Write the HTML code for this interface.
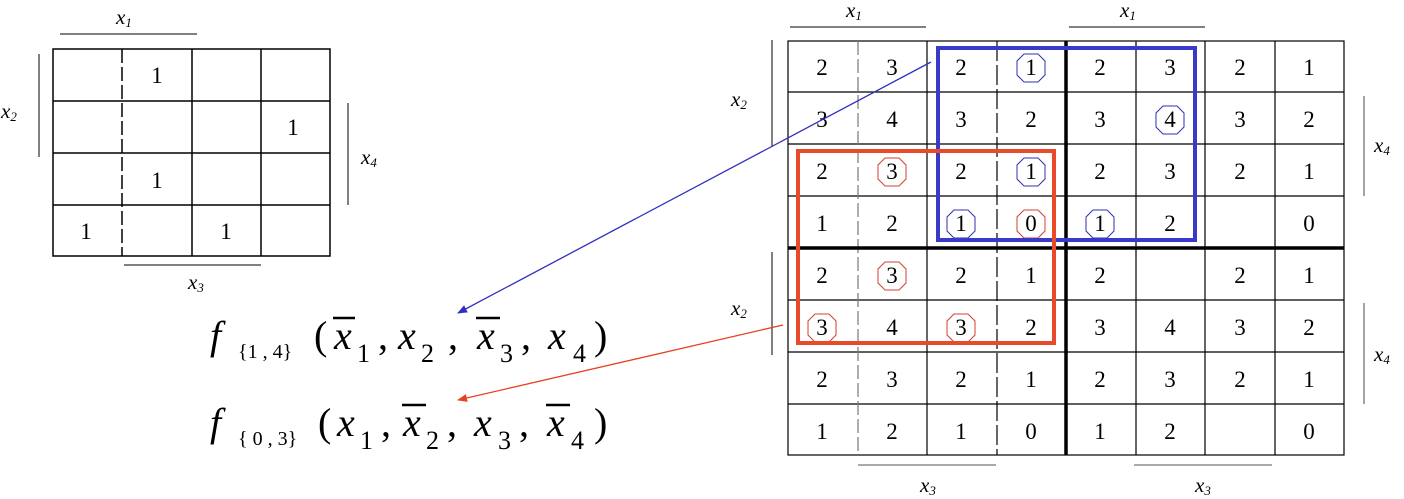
<!DOCTYPE html>
<html><head><meta charset="utf-8"><style>
html,body{margin:0;padding:0;background:#fff;}
svg{display:block;font-family:"Liberation Serif",serif;}
</style></head><body>
<svg width="1404" height="499" viewBox="0 0 1404 499" xmlns="http://www.w3.org/2000/svg">
<defs>
<marker id="ab" markerWidth="10" markerHeight="8" refX="9" refY="4" orient="auto" markerUnits="userSpaceOnUse"><path d="M0,0 L10,4 L0,8 z" fill="#3030c0"/></marker>
<marker id="ar" markerWidth="10" markerHeight="8" refX="9" refY="4" orient="auto" markerUnits="userSpaceOnUse"><path d="M0,0 L10,4 L0,8 z" fill="#e84020"/></marker>
</defs>
<g stroke="#000" stroke-width="1.5" fill="none">
<rect x="53" y="49" width="277" height="207"/>
<line x1="53" y1="101" x2="330" y2="101"/><line x1="53" y1="153" x2="330" y2="153"/><line x1="53" y1="205" x2="330" y2="205"/>
<line x1="122" y1="49" x2="122" y2="256" stroke-dasharray="14,4"/>
<line x1="192" y1="49" x2="192" y2="256"/>
<line x1="261" y1="49" x2="261" y2="256"/>
<line x1="60" y1="34" x2="197" y2="34" stroke-width="1"/>
<line x1="39" y1="54" x2="39" y2="157" stroke-width="1"/>
<line x1="348" y1="103" x2="348" y2="205" stroke-width="1"/>
<line x1="124" y1="265" x2="261" y2="265" stroke-width="1"/>
</g>
<g font-size="23" text-anchor="middle">
<text x="157" y="83">1</text><text x="293" y="135">1</text><text x="157" y="188">1</text><text x="86" y="239">1</text><text x="226" y="239">1</text>
</g>
<g font-size="21" font-style="italic">
<text x="116" y="24">x<tspan font-size="13" dy="3">1</tspan></text>
<text x="1" y="118">x<tspan font-size="13" dy="3">2</tspan></text>
<text x="361" y="164">x<tspan font-size="13" dy="3">4</tspan></text>
<text x="188" y="289">x<tspan font-size="13" dy="3">3</tspan></text>
</g>
<g stroke="#000" stroke-width="1.2" fill="none">
<rect x="788" y="41" width="556" height="414"/>
<line x1="788" y1="92" x2="1344" y2="92"/><line x1="788" y1="144" x2="1344" y2="144"/><line x1="788" y1="196" x2="1344" y2="196"/>
<line x1="788" y1="300" x2="1344" y2="300"/><line x1="788" y1="352" x2="1344" y2="352"/><line x1="788" y1="404" x2="1344" y2="404"/>
<line x1="858" y1="41" x2="858" y2="455" stroke="#777" stroke-dasharray="14,4"/>
<line x1="927" y1="41" x2="927" y2="455"/>
<line x1="997" y1="41" x2="997" y2="455" stroke-dasharray="20,4"/>
<line x1="1136" y1="41" x2="1136" y2="455"/>
<line x1="1205" y1="41" x2="1205" y2="455"/>
<line x1="1275" y1="41" x2="1275" y2="455"/>
<line x1="1066" y1="41" x2="1066" y2="455" stroke-width="3.5"/>
<line x1="788" y1="248" x2="1344" y2="248" stroke-width="3.5"/>
<line x1="790" y1="27" x2="926" y2="27" stroke-width="1"/>
<line x1="1069" y1="27" x2="1205" y2="27" stroke-width="1"/>
<line x1="772" y1="40" x2="772" y2="146" stroke-width="1"/>
<line x1="772" y1="252" x2="772" y2="355" stroke-width="1"/>
<line x1="1364" y1="96" x2="1364" y2="196" stroke-width="1.2" stroke="#666"/>
<line x1="1364" y1="303" x2="1364" y2="404" stroke-width="1.2" stroke="#666"/>
<line x1="858" y1="465" x2="996" y2="465" stroke="#aaa" stroke-width="2"/>
<line x1="1134" y1="465" x2="1272" y2="465" stroke="#aaa" stroke-width="2"/>
</g>
<g font-size="23" text-anchor="middle">
<text x="822" y="75">2</text><text x="892" y="75">3</text><text x="961" y="75">2</text><text x="1031" y="75">1</text><text x="1100" y="75">2</text><text x="1170" y="75">3</text><text x="1240" y="75">2</text><text x="1309" y="75">1</text>
<text x="822" y="127">3</text><text x="892" y="127">4</text><text x="961" y="127">3</text><text x="1031" y="127">2</text><text x="1100" y="127">3</text><text x="1170" y="127">4</text><text x="1240" y="127">3</text><text x="1309" y="127">2</text>
<text x="822" y="179">2</text><text x="892" y="179">3</text><text x="961" y="179">2</text><text x="1031" y="179">1</text><text x="1100" y="179">2</text><text x="1170" y="179">3</text><text x="1240" y="179">2</text><text x="1309" y="179">1</text>
<text x="822" y="231">1</text><text x="892" y="231">2</text><text x="961" y="231">1</text><text x="1031" y="231">0</text><text x="1100" y="231">1</text><text x="1170" y="231">2</text><text x="1309" y="231">0</text>
<text x="822" y="283">2</text><text x="892" y="283">3</text><text x="961" y="283">2</text><text x="1031" y="283">1</text><text x="1100" y="283">2</text><text x="1240" y="283">2</text><text x="1309" y="283">1</text>
<text x="822" y="335">3</text><text x="892" y="335">4</text><text x="961" y="335">3</text><text x="1031" y="335">2</text><text x="1100" y="335">3</text><text x="1170" y="335">4</text><text x="1240" y="335">3</text><text x="1309" y="335">2</text>
<text x="822" y="387">2</text><text x="892" y="387">3</text><text x="961" y="387">2</text><text x="1031" y="387">1</text><text x="1100" y="387">2</text><text x="1170" y="387">3</text><text x="1240" y="387">2</text><text x="1309" y="387">1</text>
<text x="822" y="439">1</text><text x="892" y="439">2</text><text x="961" y="439">1</text><text x="1031" y="439">0</text><text x="1100" y="439">1</text><text x="1170" y="439">2</text><text x="1309" y="439">0</text>
</g>
<g fill="none" stroke-width="1">
<g stroke="#3030b0">
<polygon points="1024,54 1038,54 1045,61 1045,75 1038,82 1024,82 1017,75 1017,61"/>
<polygon points="1163,106 1177,106 1184,113 1184,127 1177,134 1163,134 1156,127 1156,113"/>
<polygon points="1024,158 1038,158 1045,165 1045,179 1038,186 1024,186 1017,179 1017,165"/>
<polygon points="954,210 968,210 975,217 975,231 968,238 954,238 947,231 947,217"/>
<polygon points="1093,210 1107,210 1114,217 1114,231 1107,238 1093,238 1086,231 1086,217"/>
</g>
<g stroke="#d04030">
<polygon points="885,158 899,158 906,165 906,179 899,186 885,186 878,179 878,165"/>
<polygon points="1024,210 1038,210 1045,217 1045,231 1038,238 1024,238 1017,231 1017,217"/>
<polygon points="885,262 899,262 906,269 906,283 899,290 885,290 878,283 878,269"/>
<polygon points="815,314 829,314 836,321 836,335 829,342 815,342 808,335 808,321"/>
<polygon points="954,314 968,314 975,321 975,335 968,342 954,342 947,335 947,321"/>
</g>
</g>
<rect x="938" y="48" width="257" height="192" fill="none" stroke="#3a3ac8" stroke-width="4"/>
<rect x="798" y="151" width="256" height="192" fill="none" stroke="#e84a2a" stroke-width="4"/>
<g font-size="21" font-style="italic">
<text x="846" y="17">x<tspan font-size="13" dy="3">1</tspan></text>
<text x="1120" y="17">x<tspan font-size="13" dy="3">1</tspan></text>
<text x="731" y="106">x<tspan font-size="13" dy="3">2</tspan></text>
<text x="731" y="315">x<tspan font-size="13" dy="3">2</tspan></text>
<text x="1374" y="152">x<tspan font-size="13" dy="3">4</tspan></text>
<text x="1374" y="361">x<tspan font-size="13" dy="3">4</tspan></text>
<text x="920" y="492">x<tspan font-size="13" dy="3">3</tspan></text>
<text x="1195" y="492">x<tspan font-size="13" dy="3">3</tspan></text>
</g>
<line x1="931" y1="62" x2="458" y2="313" stroke="#3030c0" stroke-width="1.3" marker-end="url(#ab)"/>
<line x1="783" y1="325" x2="458" y2="400" stroke="#e84020" stroke-width="1.3" marker-end="url(#ar)"/>
<g font-size="40">
<text x="210" y="349" font-style="italic">f</text>
<text x="238" y="358" font-size="20">{1 , 4}</text>
<text x="314" y="349">(</text>
<text x="334" y="349" font-style="italic">x</text><text x="357" y="362" font-size="26">1</text>
<text x="378" y="349">,</text>
<text x="398" y="349" font-style="italic">x</text><text x="421" y="362" font-size="26">2</text>
<text x="448" y="349">,</text>
<text x="477" y="349" font-style="italic">x</text><text x="500" y="362" font-size="26">3</text>
<text x="521" y="349">,</text>
<text x="548" y="349" font-style="italic">x</text><text x="573" y="362" font-size="26">4</text>
<text x="594" y="349">)</text>
<text x="210" y="436" font-style="italic">f</text>
<text x="238" y="445" font-size="20">{ 0 , 3}</text>
<text x="318" y="436">(</text>
<text x="337" y="436" font-style="italic">x</text><text x="360" y="449" font-size="26">1</text>
<text x="381" y="436">,</text>
<text x="403" y="436" font-style="italic">x</text><text x="426" y="449" font-size="26">2</text>
<text x="447" y="436">,</text>
<text x="474" y="436" font-style="italic">x</text><text x="498" y="449" font-size="26">3</text>
<text x="519" y="436">,</text>
<text x="547" y="436" font-style="italic">x</text><text x="571" y="449" font-size="26">4</text>
<text x="594" y="436">)</text>
</g>
<g stroke="#000" stroke-width="2.5">
<line x1="333" y1="318" x2="355" y2="318"/>
<line x1="476" y1="318" x2="500" y2="318"/>
<line x1="402" y1="405" x2="426" y2="405"/>
<line x1="546" y1="405" x2="570" y2="405"/>
</g>
</svg>
</body></html>
